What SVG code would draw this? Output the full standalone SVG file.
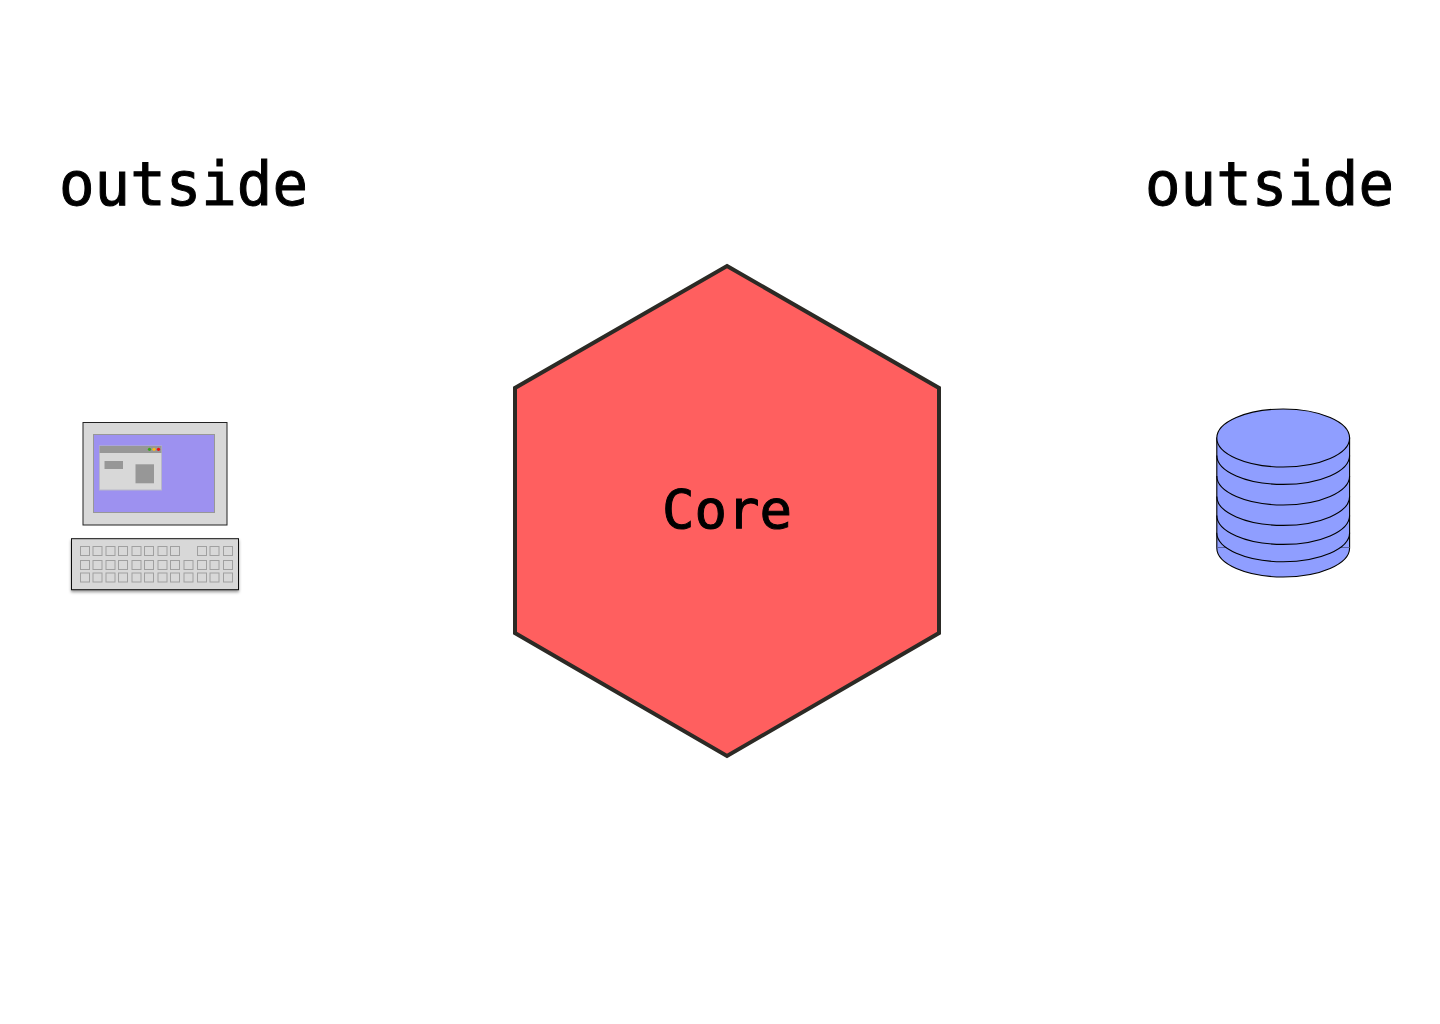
<svg xmlns="http://www.w3.org/2000/svg" width="1440" height="1024" viewBox="0 0 1440 1024">
<defs>
<style>
.t{font-family:"DejaVu Sans Mono","Liberation Mono",monospace;fill:#000;stroke:#000;stroke-width:1}
.o{font-size:60px}
.g{fill:#d8d8d8}
.m{fill:#979797}
.k{fill:#d8d8d8;stroke:#a0a0a0;stroke-width:1}
.r{fill:none;stroke:#000;stroke-width:1.1}
</style>
<filter id="s" x="-10%" y="-20%" width="120%" height="150%"><feDropShadow dx="0" dy="2" stdDeviation="1.5" flood-color="#000" flood-opacity=".4"/></filter>
<rect id="key" width="9" height="9" class="k"/>
<g id="row3">
<use href="#key" x="80.5"/><use href="#key" x="93"/><use href="#key" x="106"/><use href="#key" x="118.5"/><use href="#key" x="132"/><use href="#key" x="144.5"/><use href="#key" x="158"/><use href="#key" x="170.5"/>
<use href="#key" x="197.5"/><use href="#key" x="210"/><use href="#key" x="223.5"/>
</g>
</defs>
<rect width="1440" height="1024" fill="#fff"/>
<g id="connectors"/>
<g id="label-left"><text class="t o" x="59" y="205" textLength="249" lengthAdjust="spacingAndGlyphs">outside</text></g>
<g id="label-right"><text class="t o" x="1145" y="205" textLength="249" lengthAdjust="spacingAndGlyphs">outside</text></g>
<g id="core">
<polygon points="727,266 939,388 939,633 727,756 515,633 515,388" fill="#ff5f5f" stroke="#2c2a25" stroke-width="4"/>
<text class="t" font-size="54" x="727" y="528" text-anchor="middle">Core</text>
</g>
<g id="computer">
<rect x="83" y="422.5" width="144" height="102.5" class="g" stroke="#222" stroke-width="1"/>
<rect x="93.5" y="434.5" width="121" height="78" fill="#9d91f0" stroke="#979797" stroke-width="1"/>
<rect x="99.5" y="446" width="62" height="44" class="g" stroke="#b8b8c8" stroke-width="1"/>
<rect x="99.5" y="446" width="62" height="7" class="m"/>
<circle cx="149.5" cy="449.3" r="1.6" fill="#3aa51c"/>
<circle cx="154" cy="449.3" r="1.6" fill="#f5b81e"/>
<circle cx="158.5" cy="449.3" r="1.6" fill="#f01010"/>
<rect x="104.5" y="461" width="18.5" height="8" class="m"/>
<rect x="135.5" y="464.3" width="18.5" height="19" class="m"/>
<rect x="71.5" y="538.7" width="167" height="51" class="g" stroke="#111" stroke-width="1" filter="url(#s)"/>
<use href="#row3" y="546.5"/>
<use href="#row3" y="560.5"/><use href="#key" x="184" y="560.5"/>
<use href="#row3" y="573"/><use href="#key" x="184" y="573"/>
</g>
<g id="database">
<path d="M1216.8 438V548A66.4 29 0 0 0 1349.6 548V438Z" fill="#8f9eff" stroke="#000" stroke-width="1.1"/>
<line x1="1216.8" y1="547.5" x2="1349.6" y2="547.5" stroke="#5a62a0" stroke-width="1"/>
<path d="M1217.4 532.8A65.8 29 0 0 0 1349 532.8Z" fill="#8f9eff"/>
<ellipse cx="1283.2" cy="438" rx="66.4" ry="29" fill="#8f9eff" stroke="#000" stroke-width="1.1"/>
<path class="r" d="M1216.8 455.4A66.4 29 0 0 0 1349.6 455.4"/>
<path class="r" d="M1216.8 476A66.4 29 0 0 0 1349.6 476"/>
<path class="r" d="M1216.8 496.4A66.4 29 0 0 0 1349.6 496.4"/>
<path class="r" d="M1216.8 515.4A66.4 29 0 0 0 1349.6 515.4"/>
<path class="r" d="M1216.8 532.8A66.4 29 0 0 0 1349.6 532.8"/>
</g>
</svg>
